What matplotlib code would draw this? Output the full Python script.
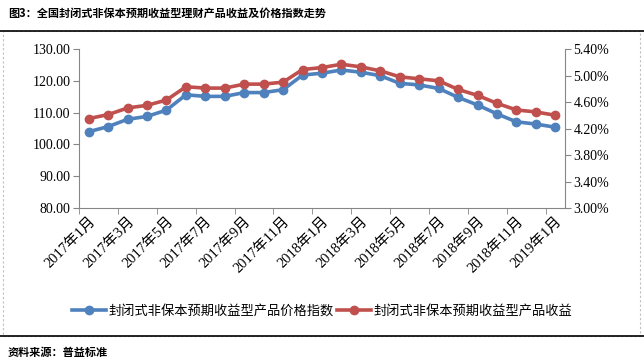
import matplotlib.pyplot as plt
from matplotlib.patches import Rectangle
from matplotlib.lines import Line2D

plt.rcParams['font.family'] = ['Liberation Serif', 'Noto Sans CJK SC']

# monthly data, 2017-01 .. 2019-01
price_index = [104.0, 105.6, 107.9, 108.8, 110.8, 115.6, 115.1, 115.1, 116.3, 116.3,
               117.2, 121.8, 122.4, 123.4, 122.7, 121.6, 119.2, 118.7, 117.6, 114.8,
               112.4, 109.6, 107.1, 106.4, 105.4]
yield_pct = [4.35, 4.41, 4.51, 4.55, 4.63, 4.83, 4.81, 4.81, 4.87, 4.87,
             4.90, 5.09, 5.12, 5.17, 5.13, 5.07, 4.98, 4.95, 4.92, 4.79,
             4.70, 4.58, 4.48, 4.45, 4.40]
tick_labels = ['2017年1月', '2017年3月', '2017年5月', '2017年7月', '2017年9月',
               '2017年11月', '2018年1月', '2018年3月', '2018年5月', '2018年7月',
               '2018年9月', '2018年11月', '2019年1月']
left_ticks = [80, 90, 100, 110, 120, 130]
right_ticks = [3.00, 3.40, 3.80, 4.20, 4.60, 5.00, 5.40]

blue = '#4f81bd'
red = '#c0504d'
grey = '#868686'
cjk = ['Noto Sans CJK SC', 'DejaVu Sans']

fig = plt.figure(figsize=(6.44, 3.63), dpi=100)
ax = fig.add_axes([0.1227, 0.427, 0.7546, 0.438])
ax2 = ax.twinx()

x = list(range(len(price_index)))
ax.plot(x, price_index, color=blue, lw=2.6, marker='o', ms=6, solid_capstyle='round')
ax2.plot(x, yield_pct, color=red, lw=2.6, marker='o', ms=6, solid_capstyle='round')

ax.set_xlim(-0.5, len(x) - 0.5)
ax.set_ylim(80, 130)
ax2.set_ylim(3.0, 5.4)
ax.set_yticks(left_ticks)
ax.set_yticklabels(['%.2f' % v for v in left_ticks])
ax2.set_yticks(right_ticks)
ax2.set_yticklabels(['%.2f%%' % v for v in right_ticks])

ax.set_xticks(x[::2])
ax.set_xticklabels(tick_labels, rotation=45, ha='right', rotation_mode='anchor')
ax.set_xticks([i - 0.5 for i in x[::2]], minor=True)
ax.tick_params(axis='x', which='major', length=0, pad=5, labelsize=10.5)
ax.tick_params(axis='x', which='minor', length=4, color=grey, direction='out')
ax.tick_params(axis='y', length=4, color=grey, labelsize=10, pad=2)
ax2.tick_params(axis='y', length=4, color=grey, labelsize=10, pad=2)

for a in (ax, ax2):
    a.spines['top'].set_visible(False)
    for s in ('left', 'right', 'bottom'):
        a.spines[s].set_color(grey)
ax.spines['right'].set_visible(False)
ax2.spines['left'].set_visible(False)
ax2.spines['bottom'].set_visible(False)

handles = [Line2D([], [], color=blue, lw=2.6, marker='o', ms=6),
           Line2D([], [], color=red, lw=2.6, marker='o', ms=6)]
fig.legend(handles, ['封闭式非保本预期收益型产品价格指数', '封闭式非保本预期收益型产品收益'],
           loc='center', bbox_to_anchor=(0.5, 0.143), ncol=2, frameon=False,
           prop={'family': cjk, 'size': 9.5}, handlelength=2.6, handletextpad=0.2,
           columnspacing=0.2)

# frame, rules and captions
fig.add_artist(Rectangle((0.004, 0.074), 0.99, 0.84, transform=fig.transFigure,
                         fill=False, ec='#bfbfbf', lw=0.8, ls=(0, (2, 2))))
fig.add_artist(Line2D([0, 1], [0.914, 0.914], transform=fig.transFigure, color='black', lw=1.2))
fig.add_artist(Line2D([0, 1], [0.074, 0.074], transform=fig.transFigure, color='black', lw=1.2))
fig.text(0.012, 0.962, '图3：全国封闭式非保本预期收益型理财产品收益及价格指数走势',
         family=cjk, fontsize=8, fontweight='bold', va='center')
fig.text(0.012, 0.028, '资料来源：普益标准', family=cjk, fontsize=8,
         fontweight='bold', va='center')

fig.savefig('out.png', dpi=100)
